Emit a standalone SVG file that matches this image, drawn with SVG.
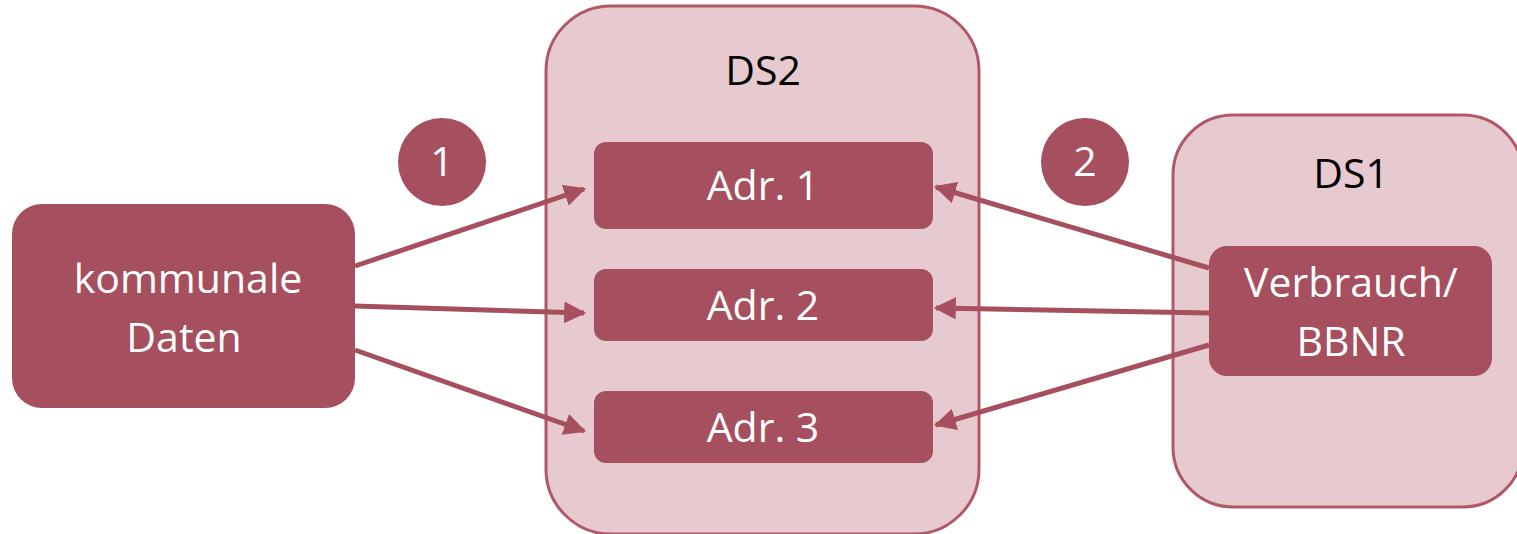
<svg xmlns="http://www.w3.org/2000/svg" width="1517" height="534" viewBox="0 0 1517 534">
<defs>
<style>
.cont{fill:#E6CAD0;stroke:#B05868;stroke-width:3}
.node{fill:#A64F5E}
.wt{fill:#FFFFFF;font-family:"Open Sans",Lato,sans-serif;font-size:41px;text-anchor:middle}
.bt{fill:#000000;font-family:"Open Sans",Lato,sans-serif;font-size:41px;text-anchor:middle}
.conn{stroke:#A64F5E;stroke-width:5;fill:none;marker-end:url(#ah)}
</style>
<marker id="ah" viewBox="0 0 10 10" refX="9" refY="5" markerWidth="4.4" markerHeight="4.4" orient="auto" markerUnits="strokeWidth">
<path d="M0,0 L10,5 L0,10 z" fill="#A64F5E"/>
</marker>
</defs>
<g id="ds2">
<rect class="cont" x="546" y="6" width="433" height="528" rx="65"/>
<text class="bt" x="763" y="85">DS2</text>
</g>
<g id="ds1">
<rect class="cont" x="1173" y="115" width="350" height="392" rx="60"/>
<text class="bt" x="1351" y="188">DS1</text>
</g>
<g id="kommunale">
<rect class="node" x="12" y="204" width="343" height="204" rx="30"/>
<text class="wt" x="188" y="293">kommunale</text>
<text class="wt" x="184" y="352">Daten</text>
</g>
<g id="adr1">
<rect class="node" x="594" y="142" width="339" height="87" rx="12"/>
<text class="wt" x="763" y="200">Adr. 1</text>
</g>
<g id="adr2">
<rect class="node" x="594" y="269" width="339" height="72" rx="12"/>
<text class="wt" x="763" y="320">Adr. 2</text>
</g>
<g id="adr3">
<rect class="node" x="594" y="391" width="339" height="72" rx="12"/>
<text class="wt" x="763" y="442">Adr. 3</text>
</g>
<g id="verbrauch">
<rect class="node" x="1209" y="246" width="283" height="130" rx="18"/>
<text class="wt" x="1351" y="297">Verbrauch/</text>
<text class="wt" x="1351" y="356">BBNR</text>
</g>
<g id="badge1">
<circle class="node" cx="442" cy="162" r="44"/>
<text class="wt" x="442" y="176">1</text>
</g>
<g id="badge2">
<circle class="node" cx="1085" cy="162" r="44"/>
<text class="wt" x="1085" y="176">2</text>
</g>
<g id="connectors">
<line class="conn" x1="355" y1="266" x2="584" y2="189"/>
<line class="conn" x1="355" y1="306" x2="584" y2="313"/>
<line class="conn" x1="355" y1="350" x2="584" y2="431"/>
<line class="conn" x1="1209" y1="268" x2="936" y2="187"/>
<line class="conn" x1="1209" y1="313" x2="936" y2="308"/>
<line class="conn" x1="1209" y1="345" x2="936" y2="425"/>
</g>
</svg>
